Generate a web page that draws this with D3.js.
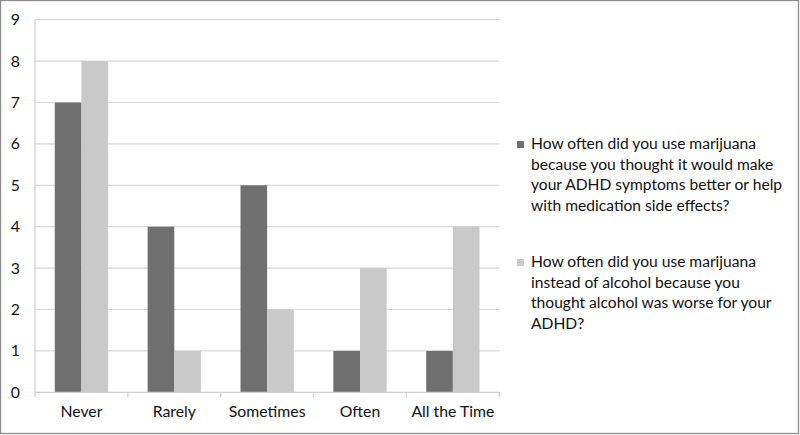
<!DOCTYPE html>
<html><head><meta charset="utf-8">
<script src="https://cdn.jsdelivr.net/npm/d3@7"></script>
<style>body{margin:0;background:#fff}svg{display:block;font-family:Lato,"Open Sans",sans-serif}</style>
</head><body><svg id="c" width="800" height="435"></svg>
<script>
const categories = ["Never","Rarely","Sometimes","Often","All the Time"];
const seriesNames = [
  "How often did you use marijuana because you thought it would make your ADHD symptoms better or help with medication side effects?",
  "How often did you use marijuana instead of alcohol because you thought alcohol was worse for your ADHD?"
];
const legendLines = [
  ["How often did you use marijuana","because you thought it would make","your ADHD symptoms better or help","with medication side effects?"],
  ["How often did you use marijuana","instead of alcohol because you","thought alcohol was worse for your","ADHD?"]
];
const seriesA = [7,4,5,1,1];
const seriesB = [8,1,2,3,4];
const yTicks = [0,1,2,3,4,5,6,7,8,9];
const colors = ["#6f6f6f","#c9c9c9"];

(function(){
const svg = d3.select("#c");
svg.append("rect").attr("x",0.5).attr("y",0.5).attr("width",798).attr("height",433)
  .attr("fill","#fff").attr("stroke","#8c8c8c").attr("stroke-width",1.3);

const pL=35, pR=499.3, pT=19.7, pB=392.3;
const x = d3.scaleBand().domain(categories).range([pL,pR]).paddingInner(0).paddingOuter(0);
const y = d3.scaleLinear().domain([0,9]).range([pB,pT]);

svg.append("g").selectAll("line").data(yTicks.filter(d=>d>0)).join("line")
  .attr("x1",pL).attr("x2",pR).attr("y1",d=>y(d)).attr("y2",d=>y(d))
  .attr("stroke","#d9d9d9").attr("stroke-width",1.2);

const barW = x.bandwidth()*0.287;
const data = categories.map((c,i)=>({c, v:[seriesA[i],seriesB[i]]}));
const g = svg.append("g");
[0,1].forEach(s=>{
  g.selectAll(".b"+s).data(data).join("rect").attr("class","b"+s)
    .attr("x",d=>x(d.c)+x.bandwidth()/2 + (s===0?-barW:0))
    .attr("width",barW)
    .attr("y",d=>y(d.v[s]))
    .attr("height",d=>pB-y(d.v[s]))
    .attr("fill",colors[s]);
});

const xa = svg.append("g").attr("transform",`translate(0,${pB})`)
  .call(d3.axisBottom(x).tickSize(0).tickPadding(13));
xa.select(".domain").remove();
xa.selectAll("text").attr("font-size",15.8).attr("fill","#111").attr("font-family","Lato,sans-serif");
svg.append("line").attr("x1",pL).attr("x2",pR).attr("y1",pB).attr("y2",pB)
  .attr("stroke","#d0d0d0").attr("stroke-width",1.3);
const bounds = [pL].concat(categories.map(c=>x(c)+x.bandwidth()));
svg.append("g").selectAll("line").data(bounds).join("line")
  .attr("x1",d=>d).attr("x2",d=>d).attr("y1",pB).attr("y2",pB+5)
  .attr("stroke","#d0d0d0").attr("stroke-width",1.3);

const ya = svg.append("g").attr("transform",`translate(${pL},0)`)
  .call(d3.axisLeft(y).tickValues(yTicks).tickSize(0).tickPadding(15));
ya.select(".domain").remove();
ya.selectAll("text").attr("font-size",15.8).attr("fill","#111").attr("font-family","Lato,sans-serif");
svg.append("line").attr("x1",pL).attr("x2",pL).attr("y1",pT).attr("y2",pB)
  .attr("stroke","#d0d0d0").attr("stroke-width",1.3);

const lg = svg.append("g");
const legendY = [145, 263];
legendLines.forEach((lines,s)=>{
  lg.append("rect").attr("x",517).attr("y",legendY[s]-4).attr("width",7).attr("height",7).attr("fill",colors[s]);
  const t = lg.append("text").attr("font-size",15.6).attr("fill","#111");
  lines.forEach((ln,i)=>t.append("tspan").attr("x",531).attr("y",legendY[s]+i*20.7)
    .attr("dominant-baseline","middle").text(ln));
});
})();
</script></body></html>
